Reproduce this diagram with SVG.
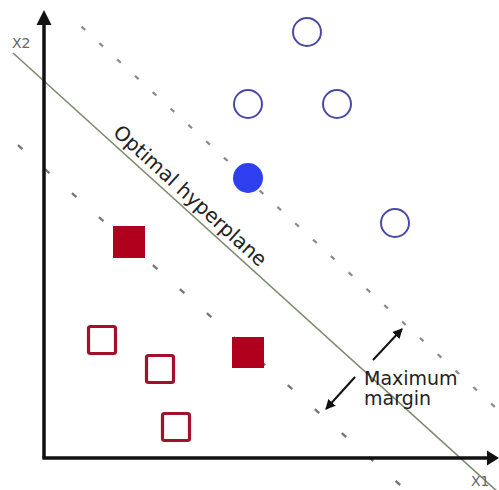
<svg xmlns="http://www.w3.org/2000/svg" width="499" height="490" viewBox="0 0 499 490">
<defs>
<style>
.axis{stroke:#111;stroke-width:3.5;fill:none}
.hyper{stroke:#7d8a6e;stroke-width:1.6;fill:none}
.dashU{stroke:#8a8a8a;stroke-width:2.2;fill:none;stroke-dasharray:5 19.2}
.dashL{stroke:#777;stroke-width:2.4;fill:none;stroke-dasharray:6 30.1}
.open{fill:#fff;stroke:#4a4aa6;stroke-width:2}
.filledc{fill:#2e3ff0}
.sqo{fill:#fff;stroke:#a3102a;stroke-width:3.2}
.sqf{fill:#b0001e}
.lbl{font-family:"DejaVu Sans",Verdana,sans-serif;fill:#222}
.ax{font-family:"DejaVu Sans",Verdana,sans-serif;fill:#666;font-size:14px}
.arr{stroke:#111;stroke-width:2;fill:none}
</style>
<marker id="ah" viewBox="0 0 10 10" refX="9" refY="5" markerWidth="5" markerHeight="5" orient="auto" markerUnits="strokeWidth">
<path d="M0,0 L10,5 L0,10 z" fill="#111"/>
</marker>
</defs>
<rect width="499" height="490" fill="#fff"/>
<g id="connectors">
<line class="dashU" x1="81.5" y1="26.6" x2="499" y2="410.7"/>
<line class="dashL" x1="18" y1="145.2" x2="420" y2="502.6"/>
<line class="hyper" x1="13" y1="53" x2="499" y2="493"/>
<line class="axis" x1="44" y1="458" x2="44" y2="22"/>
<polygon points="44,10 36.5,25 51.5,25" fill="#111"/>
<line class="axis" x1="42.3" y1="458" x2="490" y2="458"/>
<polygon points="499,458 487,450.5 487,465.5" fill="#111"/>
<line class="arr" x1="373" y1="360" x2="402" y2="329" marker-end="url(#ah)"/>
<line class="arr" x1="355" y1="377" x2="326" y2="409" marker-end="url(#ah)"/>
</g>
<g id="class-a">
<circle class="open" cx="307" cy="32" r="14"/>
<circle class="open" cx="248" cy="104" r="14"/>
<circle class="open" cx="337" cy="104" r="14"/>
<circle class="open" cx="395" cy="223" r="14"/>
<circle class="filledc" cx="248" cy="178" r="15"/>
</g>
<g id="class-b">
<rect class="sqf" x="113" y="226" width="32" height="32"/>
<rect class="sqf" x="232" y="337" width="32" height="31"/>
<rect class="sqo" x="88.5" y="326.5" width="27" height="27" rx="2"/>
<rect class="sqo" x="146.5" y="355.5" width="27" height="27" rx="2"/>
<rect class="sqo" x="162.5" y="413.5" width="27" height="27" rx="2"/>
</g>
<g id="labels">
<text class="lbl" font-size="20" transform="translate(112,134) rotate(42.2)">Optimal hyperplane</text>
<text class="lbl" font-size="19" x="364" y="385">Maximum</text>
<text class="lbl" font-size="19" x="364" y="405">margin</text>
<text class="ax" x="12" y="48">X2</text>
<text class="ax" x="471" y="486">X1</text>
</g>
</svg>
